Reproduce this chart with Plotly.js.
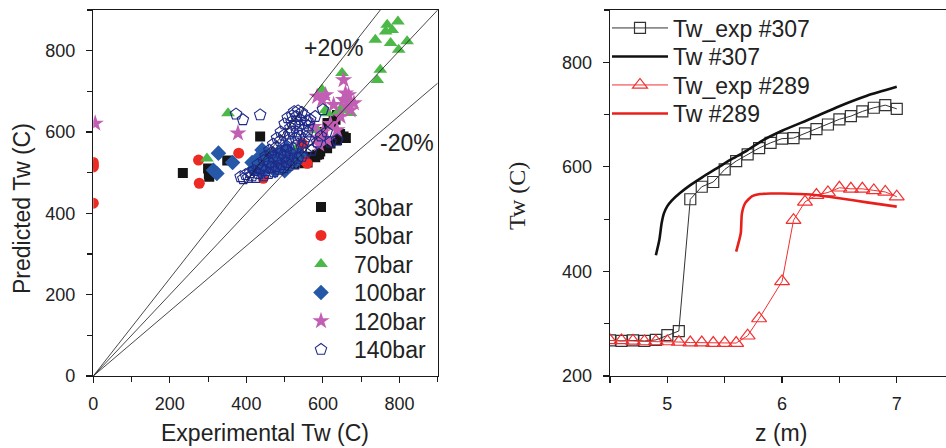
<!DOCTYPE html>
<html>
<head>
<meta charset="utf-8">
<script src="https://cdn.plot.ly/plotly-3.0.1.min.js"></script>
<style>
  html, body { margin: 0; padding: 0; background: #ffffff; }
  #chart { width: 946px; height: 448px; }
</style>
</head>
<body>
<div id="chart"></div>
<script>
// ---- Predicted vs. experimental wall temperature (left panel) ----
const x30 = [234, 300, 302, 303, 350, 436, 525, 540, 553, 560, 567, 580, 585, 590, 593, 600, 611, 612, 615, 620, 625, 628, 633, 637, 637, 645, 654, 660];
const y30 = [499, 510, 497, 490, 530, 589, 520, 530, 523, 525, 539, 538, 544, 545, 552, 600, 560, 622, 575, 572, 620, 634, 630, 580, 642, 595, 589, 585];

const x50 = [0, 0, 0, 0, 275, 277, 380, 444, 536, 546, 552, 559];
const y50 = [525, 514, 519, 425, 531, 474, 548, 486, 556, 572, 530, 523];

const x70 = [297, 352, 528, 576, 585, 598, 607, 611, 640, 650, 659, 663, 672, 650, 737, 742, 750, 764, 768, 777, 781, 796, 798, 820];
const y70 = [535, 646, 556, 605, 605, 704, 654, 646, 650, 660, 683, 654, 647, 745, 827, 728, 753, 847, 864, 819, 851, 872, 802, 823];

const x100 = [314, 323, 327, 364, 415, 420, 430, 430, 440, 441, 445, 450, 455, 460, 465, 470, 475, 480, 485, 490, 500, 500, 505, 510, 520, 530, 540];
const y100 = [506, 498, 548, 525, 525, 510, 520, 535, 500, 556, 515, 530, 545, 515, 530, 540, 505, 520, 550, 530, 545, 505, 560, 520, 540, 530, 545];

const x120 = [5, 378, 576, 585, 585, 590, 598, 600, 607, 611, 620, 628, 637, 646, 654, 654, 659, 663, 667, 672, 681];
const y120 = [621, 597, 613, 585, 687, 570, 679, 600, 691, 580, 620, 667, 605, 638, 679, 728, 695, 663, 691, 654, 671];

const x140 = [373, 391, 436, 567, 580, 600,
  385, 392, 398, 405, 410, 415, 420, 425, 432, 438, 445, 450, 458, 465, 472, 478, 485, 492, 498, 505, 512, 520, 528, 535, 545, 555,
  430, 445, 460, 470, 482, 490, 500, 505, 515,
  450, 460, 470, 480, 490, 500, 508, 465, 478, 488, 498,
  505, 510, 512, 515, 518, 520, 525, 535, 545, 552, 558, 562, 560, 556, 550, 545, 535, 528, 532, 538, 542, 530, 522, 540, 548, 553, 565, 520, 528,
  570, 585, 595, 610, 620, 637];
const y140 = [644, 630, 642, 630, 638, 655,
  490, 485, 495, 488, 500, 492, 505, 488, 498, 510, 492, 505, 498, 512, 502, 515, 508, 520, 512, 525, 518, 530, 522, 535, 540, 548,
  520, 530, 525, 540, 535, 548, 540, 555, 548,
  540, 555, 570, 585, 600, 620, 635, 548, 562, 578, 592,
  565, 580, 595, 610, 625, 640, 650, 652, 648, 640, 628, 615, 600, 588, 575, 562, 570, 585, 600, 615, 630, 638, 560, 590, 605, 620, 580, 600, 620,
  555, 575, 590, 600, 575, 580];

// deviation bands: y = ratio * x
const bandRatios = [1.2, 1.0, 0.8];
const bandLabels = ['+20%', '-20%'];
const parityMax = 900;

// ---- Wall temperature along the tube (right panel) ----
const zExp307 = [4.5, 4.6, 4.7, 4.8, 4.9, 5.0, 5.1, 5.2, 5.3, 5.4, 5.5, 5.6, 5.7, 5.8, 5.9, 6.0, 6.1, 6.2, 6.3, 6.4, 6.5, 6.6, 6.7, 6.8, 6.9, 7.0];
const twExp307 = [268, 267, 268, 267, 269, 278, 286, 538, 562, 571, 595, 611, 624, 636, 646, 654, 655, 664, 672, 681, 691, 697, 706, 713, 718, 711];

const zSim307 = [4.9, 4.93, 4.95, 4.97, 5.0, 5.04, 5.11, 5.2, 5.31, 5.43, 5.57, 5.7, 5.81, 6.0, 6.25, 6.5, 6.74, 7.0];
const twSim307 = [431, 460, 492, 511, 525, 536, 550, 565, 581, 597, 616, 632, 648, 669, 692, 716, 736, 753];

const zExp289 = [4.5, 4.6, 4.7, 4.8, 4.9, 5.0, 5.1, 5.2, 5.3, 5.4, 5.5, 5.6, 5.7, 5.8, 6.0, 6.1, 6.2, 6.3, 6.4, 6.5, 6.6, 6.7, 6.8, 6.9, 7.0];
const twExp289 = [268, 268, 267, 266, 266, 266, 265, 264, 264, 263, 263, 263, 277, 310, 381, 498, 533, 546, 551, 560, 558, 558, 555, 552, 543];

const zSim289 = [5.6, 5.64, 5.65, 5.68, 5.74, 5.81, 5.9, 6.0, 6.25, 6.5, 6.74, 7.0];
const twSim289 = [438, 473, 511, 531, 544, 548, 549, 549, 547, 540, 532, 524];

const FONT = 'Liberation Sans, Arial, sans-serif';
const INK = '#222222';
const TEXT = 23;
const W = 946, H = 448;
const px = v => v / W;
const py = v => 1 - v / H;

// each legend row is its own legend so rows can sit at a tight pitch
const leftRows = [207, 235.5, 264, 292.5, 321, 349.5];
const rightRows = [28, 56.5, 85, 113.5];
const legendIds = [];
for (let i = 0; i < leftRows.length + rightRows.length; i++) {
  legendIds.push(i === 0 ? 'legend' : 'legend' + (i + 1));
}

function scatterSet(name, xs, ys, symbol, size, color, open, k) {
  return {
    type: 'scatter', mode: 'markers', name: name, x: xs, y: ys,
    xaxis: 'x', yaxis: 'y', legend: legendIds[k],
    marker: open
      ? { symbol: symbol, size: size, color: color, line: { color: color, width: 1.1 } }
      : { symbol: symbol, size: size, color: color, line: { width: 0 } }
  };
}

const traces = [
  scatterSet('30bar', x30, y30, 'square', 10, '#151515', false, 0),
  scatterSet('50bar', x50, y50, 'circle', 11, '#ee2a24', false, 1),
  scatterSet('70bar', x70, y70, 'triangle-up', 12, '#4cb848', false, 2),
  scatterSet('100bar', x100, y100, 'diamond', 12, '#2658a8', false, 3),
  scatterSet('120bar', x120, y120, 'star', 13, '#c25fb5', false, 4),
  scatterSet('140bar', x140, y140, 'pentagon-open', 12, '#1f2a88', true, 5)
];

bandRatios.forEach(function (r) {
  traces.push({
    type: 'scatter', mode: 'lines', x: [0, parityMax], y: [0, parityMax * r],
    xaxis: 'x', yaxis: 'y', showlegend: false, hoverinfo: 'skip',
    line: { color: '#1a1a1a', width: 0.8 }
  });
});

const nL = leftRows.length;
traces.push(
  {
    type: 'scatter', mode: 'lines+markers', name: 'Tw_exp #307', x: zExp307, y: twExp307,
    xaxis: 'x2', yaxis: 'y2', legend: legendIds[nL],
    line: { color: '#333333', width: 1 },
    marker: { symbol: 'square-open', size: 11, color: '#333333', line: { width: 1.2 } }
  },
  {
    type: 'scatter', mode: 'lines', name: 'Tw #307', x: zSim307, y: twSim307,
    xaxis: 'x2', yaxis: 'y2', legend: legendIds[nL + 1],
    line: { color: '#111111', width: 2.6, shape: 'spline', smoothing: 0.6 }
  },
  {
    type: 'scatter', mode: 'lines+markers', name: 'Tw_exp #289', x: zExp289, y: twExp289,
    xaxis: 'x2', yaxis: 'y2', legend: legendIds[nL + 2],
    line: { color: '#f03030', width: 1 },
    marker: { symbol: 'triangle-up-open', size: 13, color: '#f03030', line: { width: 1.2 } }
  },
  {
    type: 'scatter', mode: 'lines', name: 'Tw #289', x: zSim289, y: twSim289,
    xaxis: 'x2', yaxis: 'y2', legend: legendIds[nL + 3],
    line: { color: '#e8201c', width: 2.6, shape: 'spline', smoothing: 0.6 }
  }
);

const yDom = [py(376), py(10)];
const baseAxis = {
  showline: true, linecolor: '#1a1a1a', linewidth: 1.4,
  showgrid: false, zeroline: false,
  ticks: 'outside', ticklen: 6, tickwidth: 1.2, tickcolor: '#1a1a1a',
  ticklabelstandoff: 5,
  tickfont: { family: FONT, size: 18, color: INK }
};
const xRight = [4.5, 4.5 + (946 - 610) / 114.7];

const layout = {
  width: W, height: H,
  margin: { l: 0, r: 0, t: 0, b: 0 },
  paper_bgcolor: '#ffffff', plot_bgcolor: '#ffffff',
  font: { family: FONT, color: INK },
  xaxis: Object.assign({}, baseAxis, {
    domain: [px(93.3), px(437.7)], range: [0, 900], mirror: true,
    tick0: 0, dtick: 200,
    minor: { dtick: 100, ticks: 'outside', ticklen: 5, tickwidth: 1.1, tickcolor: '#1a1a1a' },
    anchor: 'y'
  }),
  yaxis: Object.assign({}, baseAxis, {
    domain: yDom, range: [0, 900], mirror: true,
    tick0: 0, dtick: 200, ticklabelstandoff: 7,
    minor: { dtick: 100, ticks: 'outside', ticklen: 5, tickwidth: 1.1, tickcolor: '#1a1a1a' },
    anchor: 'x'
  }),
  xaxis3: {
    overlaying: 'x', side: 'top', anchor: 'y', range: [0, 900], tickvals: [450],
    ticks: 'inside', ticklen: 5, tickwidth: 1.1, tickcolor: '#1a1a1a',
    showticklabels: false, showgrid: false, zeroline: false, showline: false
  },
  yaxis3: {
    overlaying: 'y', side: 'right', anchor: 'x', range: [0, 900], tickvals: [450],
    ticks: 'inside', ticklen: 5, tickwidth: 1.1, tickcolor: '#1a1a1a',
    showticklabels: false, showgrid: false, zeroline: false, showline: false
  },
  xaxis2: Object.assign({}, baseAxis, {
    domain: [px(610), 1], range: xRight, mirror: true,
    tick0: 5, dtick: 1,
    minor: { dtick: 0.5, ticks: 'outside', ticklen: 6, tickwidth: 1.1, tickcolor: '#1a1a1a' },
    anchor: 'y2'
  }),
  yaxis2: Object.assign({}, baseAxis, {
    domain: yDom, range: [200, 900], mirror: false,
    tick0: 200, dtick: 200, ticklabelstandoff: 7,
    minor: { dtick: 100, ticks: 'outside', ticklen: 5, tickwidth: 1.1, tickcolor: '#1a1a1a' },
    anchor: 'x2'
  }),
  xaxis4: {
    overlaying: 'x2', side: 'top', anchor: 'y2', range: xRight, tickvals: [6],
    ticks: 'inside', ticklen: 5, tickwidth: 1.1, tickcolor: '#1a1a1a',
    showticklabels: false, showgrid: false, zeroline: false, showline: false
  },
  annotations: [
    { text: bandLabels[0], xref: 'x', yref: 'y', x: 627, y: 807, showarrow: false,
      font: { family: FONT, size: TEXT, color: INK } },
    { text: bandLabels[1], xref: 'x', yref: 'y', x: 821, y: 573, showarrow: false,
      font: { family: FONT, size: TEXT, color: INK } },
    { text: 'Experimental Tw (C)', xref: 'paper', yref: 'paper', x: px(265), y: py(433),
      xanchor: 'center', yanchor: 'middle', borderpad: 0, showarrow: false,
      font: { family: FONT, size: TEXT, color: INK } },
    { text: 'Predicted Tw (C)', xref: 'paper', yref: 'paper', x: px(22), y: py(209),
      xanchor: 'center', yanchor: 'middle', textangle: -90, showarrow: false,
      font: { family: FONT, size: TEXT, color: INK } },
    { text: 'z (m)', xref: 'paper', yref: 'paper', x: px(781), y: py(433),
      xanchor: 'center', yanchor: 'middle', borderpad: 0, showarrow: false,
      font: { family: FONT, size: TEXT, color: INK } },
    { text: 'Tw (C)', xref: 'paper', yref: 'paper', x: px(517), y: py(196),
      xanchor: 'center', yanchor: 'middle', textangle: -90, showarrow: false,
      font: { family: 'Liberation Serif, Times New Roman, serif', size: 24, color: INK } }
  ]
};

leftRows.forEach(function (rowY, i) {
  layout[legendIds[i]] = {
    x: px(288), y: py(rowY), xanchor: 'left', yanchor: 'middle',
    bgcolor: 'rgba(0,0,0,0)', borderwidth: 0, itemwidth: 56,
    font: { family: FONT, size: TEXT, color: INK }
  };
});
rightRows.forEach(function (rowY, i) {
  layout[legendIds[nL + i]] = {
    x: px(607), y: py(rowY), xanchor: 'left', yanchor: 'middle',
    bgcolor: 'rgba(0,0,0,0)', borderwidth: 0, itemwidth: 56,
    font: { family: FONT, size: TEXT, color: INK }
  };
});

Plotly.newPlot('chart', traces, layout, { staticPlot: true, displayModeBar: false });
</script>
</body>
</html>
